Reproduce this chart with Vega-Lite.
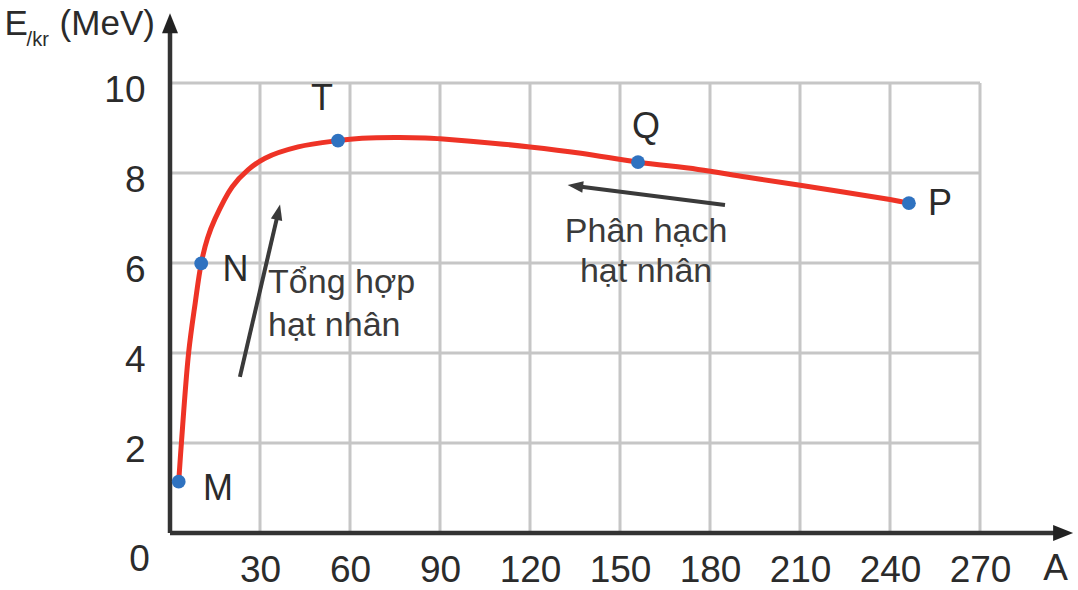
{
  "$schema": "https://vega.github.io/schema/vega-lite/v6.json",
  "autosize": {"type": "none"},
  "width": 906,
  "height": 522,
  "padding": {"left": 170, "top": 11, "right": 2, "bottom": 57},
  "background": "white",
  "config": {
    "view": {"stroke": null},
    "font": "Liberation Sans",
    "text": {"font": "Liberation Sans"}
  },
  "datasets": {
    "curve": [
      {"A": 2.9, "E": 1.14}, {"A": 3.8, "E": 2.0}, {"A": 6.2, "E": 4.0},
      {"A": 8.4, "E": 5.11}, {"A": 10.4, "E": 5.99}, {"A": 12.5, "E": 6.55},
      {"A": 15, "E": 6.98}, {"A": 20.7, "E": 7.69}, {"A": 26, "E": 8.07},
      {"A": 31.7, "E": 8.33}, {"A": 42.7, "E": 8.58}, {"A": 56, "E": 8.72},
      {"A": 64, "E": 8.77}, {"A": 75, "E": 8.79}, {"A": 85, "E": 8.78},
      {"A": 90, "E": 8.76}, {"A": 103, "E": 8.69}, {"A": 120, "E": 8.58},
      {"A": 137, "E": 8.44}, {"A": 156, "E": 8.24}, {"A": 176, "E": 8.08},
      {"A": 192, "E": 7.91}, {"A": 209, "E": 7.74}, {"A": 240, "E": 7.41},
      {"A": 246.3, "E": 7.33}
    ],
    "nuclei": [
      {"A": 2.9, "E": 1.14, "name": "M"},
      {"A": 10.4, "E": 5.99, "name": "N"},
      {"A": 56, "E": 8.72, "name": "T"},
      {"A": 156, "E": 8.24, "name": "Q"},
      {"A": 246.3, "E": 7.33, "name": "P"}
    ],
    "letters": [
      {"A": 16, "E": 0.98, "text": "M"},
      {"A": 21.8, "E": 5.84, "text": "N"},
      {"A": 50.7, "E": 9.64, "text": "T"},
      {"A": 158.7, "E": 9.02, "text": "Q"},
      {"A": 256.7, "E": 7.31, "text": "P"}
    ],
    "gridH": [
      {"A": 0, "A2": 270, "E": 2}, {"A": 0, "A2": 270, "E": 4},
      {"A": 0, "A2": 270, "E": 6}, {"A": 0, "A2": 270, "E": 8},
      {"A": 0, "A2": 270, "E": 10}
    ],
    "gridV": [
      {"A": 30, "E": 0, "E2": 10}, {"A": 60, "E": 0, "E2": 10},
      {"A": 90, "E": 0, "E2": 10}, {"A": 120, "E": 0, "E2": 10},
      {"A": 150, "E": 0, "E2": 10}, {"A": 180, "E": 0, "E2": 10},
      {"A": 210, "E": 0, "E2": 10}, {"A": 240, "E": 0, "E2": 10},
      {"A": 270, "E": 0, "E2": 10}
    ],
    "axisLines": [
      {"A": 0, "E": 0, "A2": 297, "E2": 0},
      {"A": 0, "E": 0, "A2": 0, "E2": 11.3}
    ],
    "yHead": [{"A": 0, "E": 11.33}],
    "xHead": [{"A": 297.7, "E": 0}],
    "arrowShafts": [
      {"A": 23.3, "E": 3.47, "A2": 36.1, "E2": 7.13},
      {"A": 185, "E": 7.29, "A2": 135.1, "E2": 7.71}
    ],
    "fusionHead": [{"A": 36.1, "E": 7.13}],
    "fissionHead": [{"A": 135.1, "E": 7.71}],
    "fusionText": [
      {"A": 32.7, "E": 5.33, "text": "Tổng hợp"},
      {"A": 32.7, "E": 4.38, "text": "hạt nhân"}
    ],
    "fissionText": [
      {"A": 158.7, "E": 6.47, "text": "Phân hạch"},
      {"A": 158.7, "E": 5.58, "text": "hạt nhân"}
    ],
    "extraLabels": [
      {"A": -6.7, "E": -0.6, "text": "0"},
      {"A": 299.3, "E": -0.8, "text": "A"}
    ],
    "titleMain": [
      {"A": -55.2, "E": 11.31, "text": "E"},
      {"A": -36.8, "E": 11.31, "text": "(MeV)"}
    ],
    "titleSub": [{"A": -47.8, "E": 10.96, "text": "/kr"}]
  },
  "encoding": {
    "x": {
      "field": "A",
      "type": "quantitative",
      "scale": {"domain": [0, 302], "nice": false, "zero": false},
      "axis": {
        "values": [30, 60, 90, 120, 150, 180, 210, 240, 270],
        "title": null,
        "domain": false,
        "ticks": false,
        "tickSize": 0,
        "grid": false,
        "labelFontSize": 37,
        "labelColor": "#2b2b2b",
        "labelFont": "Liberation Sans",
        "labelPadding": 19,
        "labelFlush": false,
        "labelOverlap": false
      }
    },
    "y": {
      "field": "E",
      "type": "quantitative",
      "scale": {"domain": [0, 11.6], "nice": false, "zero": false},
      "axis": {
        "values": [2, 4, 6, 8, 10],
        "title": null,
        "domain": false,
        "ticks": false,
        "tickSize": 0,
        "grid": false,
        "labelFontSize": 37,
        "labelColor": "#2b2b2b",
        "labelFont": "Liberation Sans",
        "labelPadding": 25,
        "labelOffset": 7,
        "labelFlush": false,
        "labelOverlap": false
      }
    }
  },
  "layer": [
    {
      "data": {"name": "gridH"},
      "mark": {"type": "rule", "color": "#c6c6c6", "strokeWidth": 3},
      "encoding": {"x2": {"field": "A2"}}
    },
    {
      "data": {"name": "gridV"},
      "mark": {"type": "rule", "color": "#c6c6c6", "strokeWidth": 3},
      "encoding": {"y2": {"field": "E2"}}
    },
    {
      "data": {"name": "axisLines"},
      "mark": {"type": "rule", "color": "#333333", "strokeWidth": 4.5},
      "encoding": {"x2": {"field": "A2"}, "y2": {"field": "E2"}}
    },
    {
      "data": {"name": "yHead"},
      "mark": {"type": "point", "shape": "M0,-1L0.8,1L-0.8,1Z", "size": 400, "filled": true, "color": "#222222", "opacity": 1}
    },
    {
      "data": {"name": "xHead"},
      "mark": {"type": "point", "shape": "M0,-1L0.8,1L-0.8,1Z", "size": 400, "angle": 90, "filled": true, "color": "#222222", "opacity": 1}
    },
    {
      "data": {"name": "arrowShafts"},
      "mark": {"type": "rule", "color": "#3a3a3a", "strokeWidth": 4},
      "encoding": {"x2": {"field": "A2"}, "y2": {"field": "E2"}}
    },
    {
      "data": {"name": "fusionHead"},
      "mark": {"type": "point", "shape": "M0,-1L0.75,1L-0.75,1Z", "size": 240, "angle": 13, "filled": true, "color": "#3a3a3a", "opacity": 1}
    },
    {
      "data": {"name": "fissionHead"},
      "mark": {"type": "point", "shape": "M0,-1L0.75,1L-0.75,1Z", "size": 240, "angle": 277, "filled": true, "color": "#3a3a3a", "opacity": 1}
    },
    {
      "data": {"name": "curve"},
      "mark": {"type": "line", "color": "#ee3326", "strokeWidth": 5, "interpolate": "catmull-rom", "strokeCap": "round"}
    },
    {
      "data": {"name": "nuclei"},
      "mark": {"type": "point", "filled": true, "color": "#2f72c0", "size": 190, "opacity": 1}
    },
    {
      "data": {"name": "letters"},
      "mark": {"type": "text", "fontSize": 36, "color": "#2b2b2b", "align": "center", "baseline": "middle"},
      "encoding": {"text": {"field": "text"}}
    },
    {
      "data": {"name": "fusionText"},
      "mark": {"type": "text", "fontSize": 34, "color": "#3a3a3a", "align": "left", "baseline": "alphabetic"},
      "encoding": {"text": {"field": "text"}}
    },
    {
      "data": {"name": "fissionText"},
      "mark": {"type": "text", "fontSize": 34, "color": "#3a3a3a", "align": "center", "baseline": "alphabetic"},
      "encoding": {"text": {"field": "text"}}
    },
    {
      "data": {"name": "extraLabels"},
      "mark": {"type": "text", "fontSize": 37, "color": "#2b2b2b", "align": "right", "baseline": "middle"},
      "encoding": {"text": {"field": "text"}}
    },
    {
      "data": {"name": "titleMain"},
      "mark": {"type": "text", "fontSize": 35, "color": "#2b2b2b", "align": "left", "baseline": "middle"},
      "encoding": {"text": {"field": "text"}}
    },
    {
      "data": {"name": "titleSub"},
      "mark": {"type": "text", "fontSize": 20, "color": "#2b2b2b", "align": "left", "baseline": "middle"},
      "encoding": {"text": {"field": "text"}}
    }
  ]
}
